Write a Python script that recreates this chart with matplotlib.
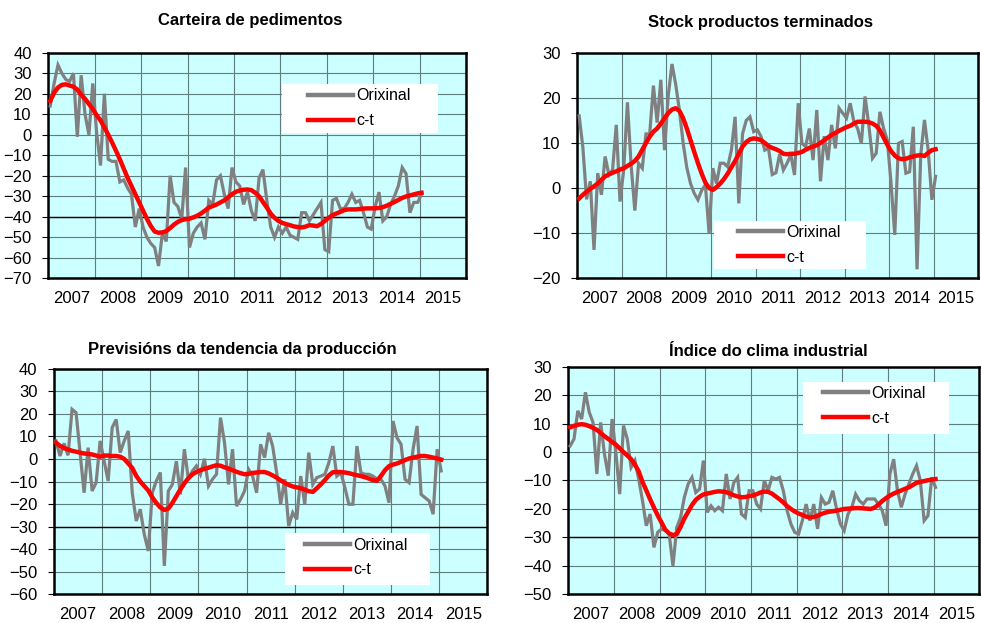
import matplotlib
matplotlib.use("Agg")
import matplotlib.pyplot as plt
import matplotlib.ticker as tick
from matplotlib.patches import Rectangle
from matplotlib.lines import Line2D

plt.rcParams['font.family'] = ['Liberation Sans', 'DejaVu Sans']

# monthly data, 97 months starting 2007
years = ['2007', '2008', '2009', '2010', '2011', '2012', '2013', '2014', '2015']
series_names = ['Orixinal', 'c-t']

carteira_orixinal = [
    14, 25, 34, 30, 27, 26, 30, -1, 29, 10,
    0, 25, 1, -15, 20, -12, -13, -13, -23, -22,
    -26, -29, -45, -36, -45, -50, -53, -55, -64, -48,
    -52, -20, -33, -35, -41, -16, -55, -48, -45, -43,
    -51, -32, -34, -22, -20, -29, -36, -16, -23, -25,
    -34, -28, -37, -42, -21, -17, -32, -45, -50, -45,
    -48, -45, -49, -50, -51, -38, -38, -42, -39, -36,
    -33, -56, -57, -32, -31, -36, -36, -33, -29, -33,
    -32, -38, -45, -46, -35, -28, -42, -40, -34, -30,
    -25, -16, -19, -38, -33, -33, -29]
carteira_ct = [
    16.5, 20.5, 23, 24.3, 24.6, 24, 23.4, 22, 19.5, 17.5,
    15, 12.5, 9.5, 7, 3.5, 0, -3.8, -7.8, -12, -16.5,
    -21, -25, -29, -33, -37, -41, -44.5, -47.2, -47.8, -47.6,
    -47, -45.5, -43.8, -42.5, -41.6, -41.2, -40.9, -40.3, -39.5, -38.4,
    -37, -35.5, -34.8, -34, -33, -32, -30.5, -29, -27.8, -27.2,
    -26.8, -26.7, -27, -28.3, -30, -32.8, -35.5, -38.5, -40.5, -42,
    -43, -43.6, -44.1, -44.7, -45, -45.2, -44.8, -44.1, -44.3, -44.6,
    -43.5, -42, -40.5, -39.2, -38.4, -37.6, -36.8, -36.4, -36.4, -36.4,
    -36.2, -36, -35.9, -35.9, -35.9, -35.7, -35.3, -34.6, -33.7, -32.8,
    -31.8, -30.8, -30.1, -29.6, -29.1, -28.6, -28.3]

stock_orixinal = [
    16, 9, -2.5, 1.5, -13.7, 3.3, -1.5, 7, 3, 4,
    14, -3, 4, 19, 5, -5, 5.5, 4.4, 12, 12,
    22.7, 14.5, 24, 8.4, 20.5, 27.5, 23, 17.3, 10, 4.5,
    1, -1.2, -2.6, -0.5, 0.7, -10, 4.4, 1, 5.5, 5.5,
    4.7, 8.4, 15.8, -3.4, 12, 15, 15.8, 12.5, 12.9, 11.4,
    8.4, 8.8, 3, 3.4, 7.5, 4, 5.5, 7.4, 2.9, 18.8,
    9.9, 9.2, 13.2, 6.2, 17.3, 1.5, 11.5, 6.2, 14, 8.8,
    17.7, 16.6, 15.5, 18.8, 14.7, 13.2, 9.9, 20.3, 14, 6.6,
    7.7, 16.9, 13.2, 10.6, 1.1, -10.4, 9.9, 10.3, 3.3, 3.6,
    13.6, -18, 7.4, 15.1, 8.4, -2.6, 2.6]
stock_ct = [
    -2.3, -1.5, -0.8, -0.2, 0.4, 1, 1.8, 2.6, 3, 3.4,
    3.7, 4.1, 4.4, 4.9, 5.4, 6, 7, 8.5, 10, 11.4,
    12.5, 13.2, 14.3, 15.5, 16.6, 17.4, 17.7, 17.1, 15.5, 13.2,
    10.6, 8, 5.5, 3.2, 1.2, 0, -0.4, 0.2, 1, 2,
    3.2, 4.6, 6, 7.6, 9.2, 10.2, 10.8, 11, 10.9, 10.6,
    10, 9.3, 8.9, 8.6, 8.2, 7.6, 7.5, 7.6, 7.6, 7.8,
    8, 8.5, 8.9, 9.2, 9.5, 10, 10.6, 11.2, 11.8, 12.2,
    12.7, 13.1, 13.5, 13.8, 14.3, 14.7, 14.7, 14.7, 14.6, 14.3,
    13.8, 12.8, 11.2, 9.6, 8.2, 7.2, 6.6, 6.4, 6.5, 6.8,
    7, 7.2, 7.3, 7.1, 7.8, 8.4, 8.6]

previsions_orixinal = [
    8, 1.3, 6.9, 1.6, 22, 20.5, 2.8, -15, 5, -14.2,
    -10.5, 8, -1, -9.8, 13.9, 17.5, 2.8, 8, 12.4, -15,
    -27.5, -22.3, -33.4, -40.8, -15, -9.8, -6, -47.4, -14.2, -11.3,
    -1, -15.7, 4.3, -9, -5.3, -3.1, -6.8, 0.1, -12, -9,
    -6.8, 18.3, 7.2, -11.3, 4.3, -20.9, -17.9, -14.2, -4.6, -7.6,
    -15, 6.5, 0.6, 11.6, 5.7, -6.1, -20.1, -9, -29.7, -23.8,
    -26.8, -7.6, -20.1, 2.8, -11.3, -8.3, -7.6, -6.8, -1.7, 5.7,
    -7.6, -6.1, -12.7, -20.1, -20.1, 5.7, -6.1, -6.8, -6.8, -7.6,
    -9, -9, -12, -19.4, 16.8, 9.4, 6.5, -9, -10.5, 4.3,
    14.6, -15.7, -17.2, -18.6, -24.5, 4.3, -5.3]
previsions_ct = [
    7.2, 5.8, 4.8, 4.2, 3.6, 3.2, 2.8, 2.4, 2.2, 2,
    1.5, 1, 1.5, 1.5, 1.3, 1.3, 1, 0, -2, -4,
    -7.5, -10, -12, -14, -17, -19.5, -21.5, -22.6, -22, -19.5,
    -16.5, -13.5, -10.8, -8.5, -6.8, -5.8, -5, -4.4, -3.9, -3.3,
    -2.8, -3, -3.7, -4.3, -5, -5.7, -6.3, -6.8, -6.6, -6.2,
    -6, -5.8, -5.8, -6.4, -7.3, -8.3, -9.5, -10.6, -11.5, -12.2,
    -12.6, -13, -13.6, -14.3, -14.6, -13, -11.3, -9.4, -7.3, -5.9,
    -5.8, -5.8, -6, -6.3, -6.8, -7.2, -7.6, -8.1, -8.7, -9.4,
    -9.7, -7.5, -5, -3.2, -2.5, -2, -1.3, -0.5, 0.2, 0.6,
    1, 1.3, 1.3, 1, 0.6, 0.2, -0.3]

clima_orixinal = [
    2.2, 4.6, 14.5, 11.6, 21, 14, 10.4, -7.7, 10.4, -0.7,
    -8.3, 11.6, -0.1, -14.8, 9.3, 4.6, -5.4, -3, -9.5, -17.1,
    -25.9, -21.8, -33.5, -28.2, -27.1, -27.6, -28.8, -40, -26.5, -23,
    -15.9, -11.2, -8.9, -14.2, -13, -3, -21.2, -18.9, -20.6, -19.4,
    -20.6, -7.7, -16.5, -10.7, -8.9, -21.8, -23, -13.6, -13.6, -18.3,
    -20, -10, -13.6, -8.9, -9.5, -8.9, -13.6, -20.6, -25.3, -28.2,
    -28.8, -24.1, -18.3, -24.1, -18.3, -27, -16, -18.3, -17.7, -13.6,
    -20, -25.3, -27.6, -21.8, -19.4, -14.8, -17.1, -18.3, -16.5, -16.5,
    -16.5, -18.3, -20.6, -25.9, -7.7, -2.5, -13.6, -19.4, -14.8, -11.2,
    -7.7, -4.8, -10, -24.1, -22.4, -8.9, -12.4]
clima_ct = [
    8.7, 9.2, 9.6, 9.8, 9.6, 9.1, 8.5, 7.8, 6.7, 5.6,
    4.6, 3.6, 2.6, 1.3, 0, -1.2, -2.5, -4.4, -6.8, -10.5,
    -13.5, -16.6, -19.5, -22.3, -24.8, -27.3, -28.6, -29.2, -28.8, -26.3,
    -23.3, -21, -18.6, -16.8, -15.7, -14.9, -14.6, -14.3, -14, -13.8,
    -13.9, -14.1, -14.6, -15.2, -15.6, -15.9, -15.8, -15.5, -15.3, -14.8,
    -14.2, -13.9, -14, -14.6, -15.6, -16.6, -17.7, -19, -20, -20.9,
    -21.6, -22.1, -22.7, -23, -22.8, -22.4, -21.8, -21.3, -21, -20.8,
    -20.6, -20.3, -20, -19.9, -19.8, -19.7, -19.7, -19.8, -19.9, -20,
    -19.5, -18.5, -17.2, -16.2, -15.3, -14.6, -14, -13.5, -12.9, -12.4,
    -11.6, -10.8, -10.5, -10.2, -9.9, -9.7, -9.5]

BG = '#ccffff'
GRID = '#5f7f7f'
GRAY = '#808080'
RED = '#ff0000'

W, H = 981, 623


def fig_x(px):
    return px / W


def fig_y(py):
    return 1 - py / H


def draw_panel(fig, rect, title, title_xy, orig, trend, ylim, base, legend_box):
    left, top, right, bottom = rect
    ax = fig.add_axes([fig_x(left), fig_y(bottom), fig_x(right - left),
                       (bottom - top) / H])
    ax.set_facecolor(BG)
    x = [i + 0.5 for i in range(len(orig))]
    ax.plot(x, orig, color=GRAY, lw=2.3, zorder=3, solid_joinstyle='miter')
    ax.plot(x, trend, color=RED, lw=3.2, zorder=3.5)
    if base is not None:
        ax.axhline(base, color='black', lw=1.0, zorder=2.5)

    ax.set_xlim(0, 108)
    ax.set_ylim(*ylim)
    ax.xaxis.set_major_locator(tick.MultipleLocator(12))
    ax.xaxis.set_major_formatter(tick.NullFormatter())
    ax.xaxis.set_minor_locator(tick.FixedLocator([6 + 12 * k for k in range(len(years))]))
    ax.xaxis.set_minor_formatter(tick.FixedFormatter(years))
    ax.yaxis.set_major_locator(tick.MultipleLocator(10))
    ax.tick_params(axis='x', which='both', length=0, labelsize=12, pad=9)
    ax.tick_params(axis='y', length=4, width=0.8, labelsize=12, pad=8)
    ax.grid(True, which='major', color=GRID, lw=0.8, zorder=1)
    ax.set_axisbelow(True)
    for sp in ax.spines.values():
        sp.set_linewidth(1.8)
        sp.set_color('black')

    fig.text(fig_x(title_xy[0]), fig_y(title_xy[1]), title, ha='center',
             va='center', fontsize=12, fontweight='bold')

    bx0, by0, bx1, by1, hx, row_y = legend_box
    ax.add_patch(Rectangle((fig_x(bx0), fig_y(by1)), (bx1 - bx0) / W,
                           (by1 - by0) / H, transform=fig.transFigure,
                           facecolor='white', edgecolor='none', zorder=4,
                           clip_on=False))
    handles = [Line2D([], [], color=GRAY, lw=3.2),
               Line2D([], [], color=RED, lw=3.2)]
    leg = ax.legend(handles, series_names, loc='upper left',
                    bbox_to_anchor=(fig_x(hx), fig_y(row_y - 9)),
                    bbox_transform=fig.transFigure, frameon=False,
                    borderpad=0, borderaxespad=0, handlelength=2.8,
                    handletextpad=0.25, labelspacing=0.62, fontsize=11.5)
    leg.set_zorder(5)
    return ax


fig = plt.figure(figsize=(W / 100, H / 100), dpi=100)

draw_panel(fig, (48.3, 52.7, 466, 278.3), 'Carteira de pedimentos', (250, 20),
           carteira_orixinal, carteira_ct, (-70, 40), -40,
           (282, 84, 438, 133, 308, 97.5))
draw_panel(fig, (577.3, 52.7, 978.3, 278.3), 'Stock productos terminados', (761, 23),
           stock_orixinal, stock_ct, (-20, 30), None,
           (714, 221, 866, 269, 738, 234))
draw_panel(fig, (54, 368.7, 487.3, 594.3), 'Previsións da tendencia da producción',
           (242, 349), previsions_orixinal, previsions_ct, (-60, 40), -30,
           (285, 533, 430, 585, 305, 546.5))
draw_panel(fig, (568.3, 366.7, 979.3, 594.3), 'Índice do clima industrial', (768, 352),
           clima_orixinal, clima_ct, (-50, 30), -30,
           (803, 382, 949, 434, 823, 395))

fig.savefig('out.png', dpi=100)
